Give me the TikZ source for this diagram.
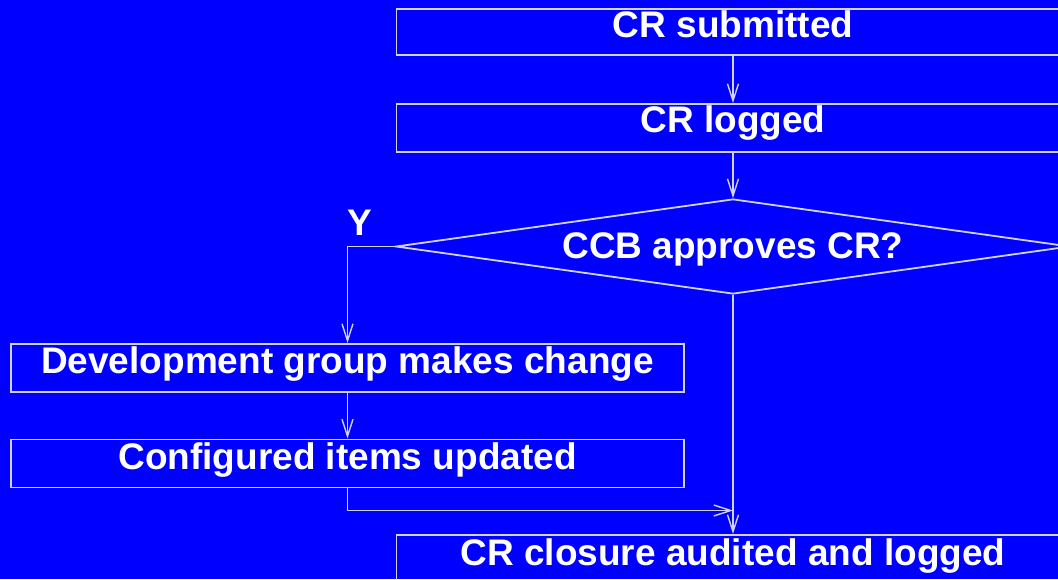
\documentclass[tikz,border=0pt]{standalone}
\usepackage{fontspec}
\setmainfont{Liberation Sans}
\usetikzlibrary{arrows.meta,shapes.geometric}
\definecolor{bg}{RGB}{0,0,255}
\definecolor{ln}{RGB}{210,210,245}
\begin{document}
\begin{tikzpicture}[x=1pt,y=-1pt,
  txt/.style={text=white,font=\fontsize{37}{40}\selectfont\bfseries,inner sep=0pt},
  box/.style 2 args={draw=ln,line width=1.8pt,rectangle,inner sep=0pt,minimum width=673pt,minimum height=#1,text height=#2,text depth=#1-#2,txt},
  arr/.style={draw=ln,line width=1.6pt,-{Straight Barb[length=17pt,width=11pt,line width=1.4pt]}},
  ]
\fill[bg] (0,0) rectangle (1058,579);
\useasboundingbox (0,0) rectangle (1058,579);
\clip (0,0) rectangle (1058,579);
% boxes (anchored at top; text height = distance from top edge to baseline)
\node[box={46pt}{29pt},anchor=north] (sub) at (733,8) {CR submitted};
\node[box={48pt}{29pt},anchor=north] (log) at (733,103) {CR logged};
\node[draw=ln,line width=1.8pt,diamond,aspect=7.09,inner sep=0pt,minimum width=674pt,minimum height=95pt] (ccb) at (733,246.5) {};
\node[txt,anchor=base] (ccbt) at (733,258) {CCB approves CR?};
\node[txt,anchor=base] (y) at (360,235) {Y};
\node[box={48pt}{30pt},anchor=north] (dev) at (347.5,343) {Development group makes change};
\node[box={48pt}{30.5pt},anchor=north] (cfg) at (347.5,438.5) {Configured items updated};
\node[box={50pt}{31pt},anchor=north] (clo) at (733,534) {CR closure audited and logged};
\coordinate (j) at (733,510.5);
% connectors
\draw[arr] (sub.south) -- (log.north);
\draw[arr] (log.south) -- (ccb.north);
\draw[arr] (ccb.west) -| (dev.north);
\draw[arr] (dev.south) -- (cfg.north);
\draw[arr] (cfg.south) |- (j);
\draw[arr] (ccb.south) -- (clo.north);
\end{tikzpicture}
\end{document}
